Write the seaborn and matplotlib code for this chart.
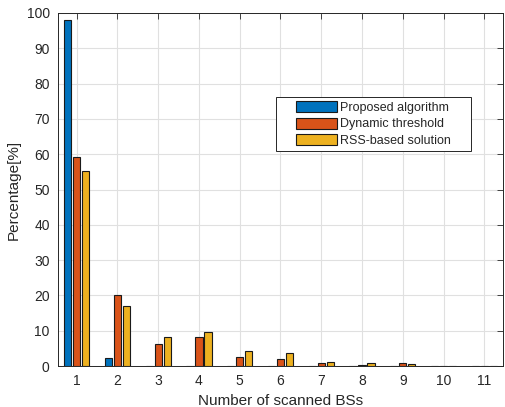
import matplotlib
matplotlib.use("Agg")
import matplotlib.pyplot as plt
from matplotlib.patches import Rectangle
import numpy as np
import pandas as pd
import seaborn as sns

# values
scanned = [1, 2, 3, 4, 5, 6, 7, 8, 9, 10, 11]
proposed = [98.0, 2.2, 0.1, 0.1, 0.1, 0.1, 0.1, 0.1, 0.1, 0.1, 0.1]
dynamic = [59.3, 20.0, 6.1, 8.1, 2.6, 1.9, 0.9, 0.3, 0.9, 0.1, 0.1]
rss_based = [55.2, 16.9, 8.3, 9.6, 4.2, 3.7, 1.1, 0.85, 0.6, 0.05, 0.05]

series_names = ["Proposed algorithm", "Dynamic threshold", "RSS-based solution"]
colors = ["#0072BD", "#D95319", "#EDB120"]

rows = []
for name, vals in zip(series_names, [proposed, dynamic, rss_based]):
    for n, v in zip(scanned, vals):
        rows.append({"bss": str(n), "pct": v, "method": name})
df = pd.DataFrame(rows)

sns.set_style("whitegrid")
plt.rcParams["font.family"] = ["Liberation Sans", "DejaVu Sans"]

fig, ax = plt.subplots(figsize=(5.05, 4.07), dpi=100)
fig.subplots_adjust(left=58 / 505, right=503 / 505, top=1 - 13 / 407, bottom=1 - 366 / 407)

sns.barplot(data=df, x="bss", y="pct", hue="method", palette=colors,
            width=0.66, gap=0.18, edgecolor="#1a1a1a", linewidth=0.8,
            saturation=1, errorbar=None, ax=ax)

ax.set_xlim(-0.46, 10.46)
ax.set_ylim(0, 100)
ax.set_yticks(np.arange(0, 101, 10))
ax.set_xlabel("Number of scanned BSs", fontsize=11, color="#262626")
ax.set_ylabel("Percentage[%]", fontsize=11, color="#262626")
ax.tick_params(axis="both", labelsize=10, colors="#262626", direction="in",
               length=4, width=0.6, top=True, right=True, pad=6)
ax.grid(True, color="#e0e0e0", linewidth=0.8)
ax.set_axisbelow(True)
for sp in ax.spines.values():
    sp.set_visible(True)
    sp.set_color("#262626")
    sp.set_linewidth(0.7)

# legend box drawn separately so it can have the wide side padding
box = Rectangle((0.49, 0.609), 0.438, 0.153, transform=ax.transAxes,
                facecolor="white", edgecolor="#262626", linewidth=0.7, zorder=5)
ax.add_patch(box)
leg = ax.legend(loc="center", bbox_to_anchor=(0.709, 0.6855), fontsize=9,
                frameon=False, handlelength=3.3, handleheight=1.0,
                handletextpad=0.25, borderpad=0.2, labelspacing=0.3)
leg.set_zorder(6)

fig.savefig("out.png", dpi=100)
